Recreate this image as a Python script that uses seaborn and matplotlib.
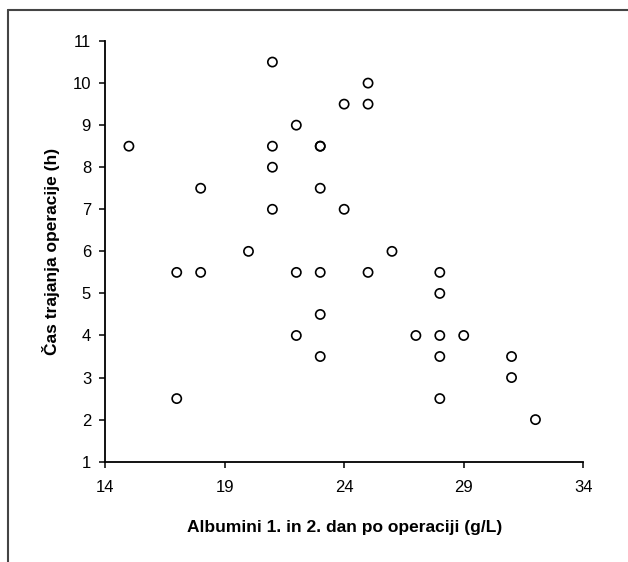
import seaborn as sns
import pandas as pd
import matplotlib.pyplot as plt
from matplotlib.lines import Line2D

# albumin (g/L) vs. duration of surgery (h)
albumini = [15, 17, 17, 18, 18, 20, 21, 21, 21, 21, 22, 22, 22,
            23, 23, 23, 23, 23, 23, 24, 24, 25, 25, 25, 26, 27,
            28, 28, 28, 28, 28, 29, 31, 31, 32]
cas = [8.5, 5.5, 2.5, 7.5, 5.5, 6, 10.5, 8.5, 8, 7, 9, 5.5, 4,
       8.5, 8.5, 7.5, 5.5, 4.5, 3.5, 9.5, 7, 10, 9.5, 5.5, 6, 4,
       5.5, 5, 4, 3.5, 2.5, 4, 3.5, 3, 2]

x_ticks = [14, 19, 24, 29, 34]
y_ticks = list(range(1, 12))

df = pd.DataFrame({'alb': albumini, 'cas': cas})

sns.set_style('white')
plt.rcParams['font.family'] = ['Liberation Sans', 'DejaVu Sans']

fig = plt.figure(figsize=(6.28, 5.62), dpi=100)
ax = fig.add_axes([0.1672, 0.1785, 0.9288 - 0.1672, 0.927 - 0.1785])

sns.scatterplot(data=df, x='alb', y='cas', ax=ax, marker='o', s=44,
                facecolor='none', edgecolor='black', linewidth=1.2)

ax.set_xlim(14, 34)
ax.set_ylim(1, 11)
ax.set_xticks(x_ticks)
ax.set_yticks(y_ticks)
ax.tick_params(axis='both', direction='out', length=4, width=1.1,
               colors='black', labelsize=12)
ax.tick_params(axis='x', pad=9)
ax.tick_params(axis='y', pad=6)
ax.tick_params(bottom=True, left=True)

sns.despine(ax=ax)
for side in ['left', 'bottom']:
    ax.spines[side].set_color('black')
    ax.spines[side].set_linewidth(1.3)

ax.set_xlabel('Albumini 1. in 2. dan po operaciji (g/L)', fontsize=12.5,
              fontweight='bold', labelpad=18, color='black')
ax.set_ylabel('Čas trajanja operacije (h)', fontsize=12.5,
              fontweight='bold', labelpad=9, color='black')

# chart frame (only left and top edges visible)
fig.add_artist(Line2D([8 / 628, 8 / 628], [0, 1 - 10 / 562],
                      transform=fig.transFigure, color='#444444', lw=1.5))
fig.add_artist(Line2D([8 / 628, 1], [1 - 10 / 562, 1 - 10 / 562],
                      transform=fig.transFigure, color='#444444', lw=1.5))

fig.savefig('out.png', dpi=100)
